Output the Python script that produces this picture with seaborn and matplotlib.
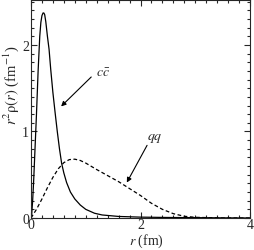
import numpy as np
import matplotlib
matplotlib.use("Agg")
import matplotlib.pyplot as plt
import seaborn as sns
import pandas as pd
from matplotlib.ticker import MultipleLocator

# charmonium (c cbar) density
r_cc = [0.0, 0.01, 0.03, 0.05, 0.07, 0.1, 0.13, 0.16, 0.18, 0.2, 0.22, 0.235, 0.25, 0.27,
        0.3, 0.33, 0.36, 0.4, 0.44, 0.48, 0.52, 0.56, 0.6, 0.65, 0.72, 0.8, 0.9, 1.0,
        1.16, 1.3, 1.6, 2.0, 2.5, 3.0, 4.0]
rho_cc = [0.0, 0.02, 0.2, 0.45, 0.75, 1.2, 1.7, 2.1, 2.26, 2.34, 2.37, 2.37, 2.35, 2.27,
          2.1, 1.95, 1.72, 1.45, 1.22, 1.0, 0.8, 0.63, 0.52, 0.41, 0.3, 0.22, 0.15, 0.1,
          0.055, 0.035, 0.018, 0.01, 0.006, 0.004, 0.0]

# light quark (qq) density
r_qq = [0.0, 0.1, 0.2, 0.3, 0.4, 0.5, 0.6, 0.7, 0.8, 0.9, 1.0, 1.2, 1.4, 1.6, 1.8,
        2.0, 2.2, 2.4, 2.6, 2.8, 3.0, 3.5, 4.0]
rho_qq = [0.0, 0.1, 0.22, 0.35, 0.47, 0.57, 0.64, 0.675, 0.68, 0.665, 0.635, 0.56, 0.49,
          0.42, 0.34, 0.26, 0.17, 0.1, 0.05, 0.02, 0.008, 0.0, 0.0]

sns.set_style("ticks")
plt.rcParams['font.family'] = ['Liberation Serif', 'DejaVu Serif']
plt.rcParams['mathtext.fontset'] = 'stix'

fig = plt.figure(figsize=(2.54, 2.51), dpi=100)
ax = fig.add_axes([31/254, 32/251, 219/254, 218/251])

df_cc = pd.DataFrame({'r': r_cc, 'rho': rho_cc})
df_qq = pd.DataFrame({'r': r_qq, 'rho': rho_qq})
sns.lineplot(data=df_cc, x='r', y='rho', ax=ax, color='black', lw=0.9)
sns.lineplot(data=df_qq, x='r', y='rho', ax=ax, color='black', lw=0.9, dashes=False,
             linestyle=(0, (3, 2)))

ax.set_xlim(0, 4)
ax.set_ylim(0, 2.52)
ax.xaxis.set_major_locator(MultipleLocator(2))
ax.xaxis.set_minor_locator(MultipleLocator(0.2))
ax.yaxis.set_major_locator(MultipleLocator(1))
ax.yaxis.set_minor_locator(MultipleLocator(0.1))
ax.tick_params(which='both', direction='in', top=True, right=True, labelsize=10, width=0.8)
ax.tick_params(which='major', length=4, pad=1.5)
ax.tick_params(axis='x', which='major', pad=0.3)
ax.tick_params(which='minor', length=2.5)
for s in ax.spines.values():
    s.set_linewidth(0.8)

ax.set_xlabel(r'$r$ (fm)', fontsize=10, va='center')
ax.set_ylabel(r'$r^2\mathrm{\rho}(r)$ (fm$^{-1}$)', fontsize=10.5, va='center')
ax.xaxis.set_label_coords(0.525, -0.104)
ax.yaxis.set_label_coords(-0.09, 0.615)

arrow = dict(arrowstyle='-|>', lw=0.8, color='black', mutation_scale=7, shrinkA=0, shrinkB=0)
ax.annotate('', xy=(0.55, 1.29), xytext=(1.10, 1.63), arrowprops=arrow)
ax.text(1.32, 1.68, r'$c\bar{c}$', fontsize=10, ha='center', va='center')
ax.annotate('', xy=(1.75, 0.41), xytext=(2.12, 0.84), arrowprops=arrow)
ax.text(2.27, 0.93, r'$qq$', fontsize=10, ha='center', va='center')

fig.savefig('out.png', dpi=100)
